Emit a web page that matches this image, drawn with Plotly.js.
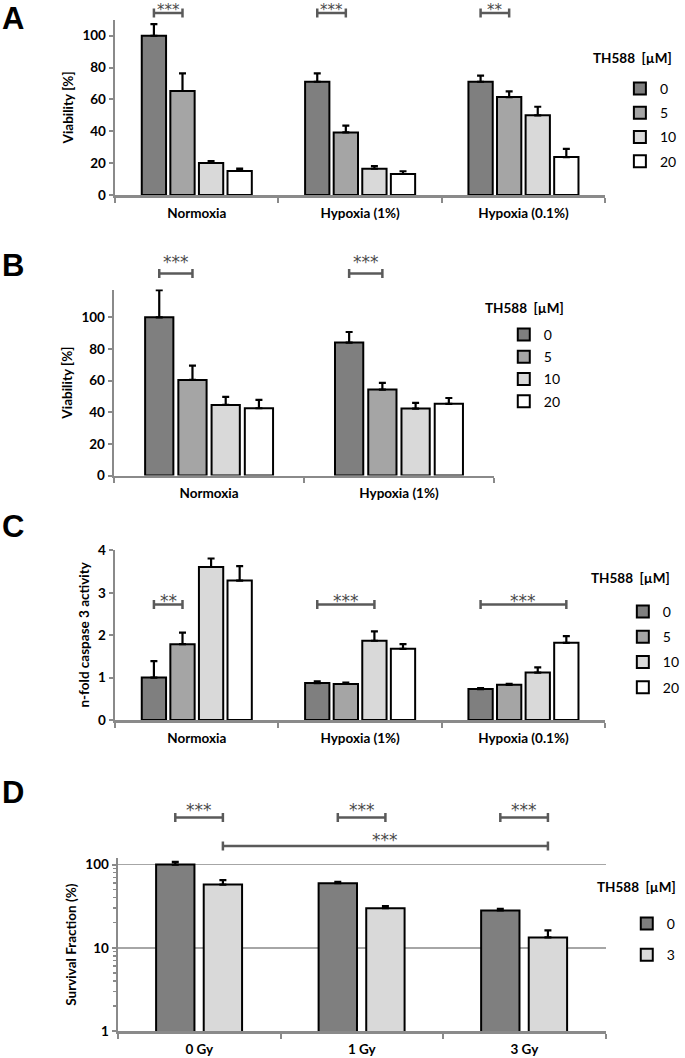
<!DOCTYPE html>
<html><head><meta charset="utf-8">
<script src="https://cdn.plot.ly/plotly-3.0.1.min.js"></script>
<style>html,body{margin:0;padding:0;background:#fff}#chart{width:685px;height:1058px}</style>
</head><body><div id="chart"></div>
<script>
// ---------------- DATA ----------------
const dosesABC = ['0', '5', '10', '20'];          // TH588 [µM]
const dosesD = ['0', '3'];                        // TH588 [µM]

// Panel A – viability
const conditionsA = ['Normoxia', 'Hypoxia (1%)', 'Hypoxia (0.1%)'];
const viabA_0 = [100, 71.1, 71.1];
const viabA_5 = [65.3, 39.3, 61.5];
const viabA_10 = [20.1, 16.5, 50.0];
const viabA_20 = [15.1, 13.2, 23.8];
const errA_0 = [7.3, 5.3, 3.8];
const errA_5 = [11.1, 4.2, 3.6];
const errA_10 = [1.2, 1.7, 5.4];
const errA_20 = [1.4, 1.7, 5.1];

// Panel B – viability
const conditionsB = ['Normoxia', 'Hypoxia (1%)'];
const viabB_0 = [100, 84.0];
const viabB_5 = [60.4, 54.3];
const viabB_10 = [44.6, 42.3];
const viabB_20 = [42.5, 45.3];
const errB_0 = [17.2, 6.7];
const errB_5 = [9.1, 4.2];
const errB_10 = [5.1, 3.6];
const errB_20 = [5.3, 3.7];

// Panel C – n-fold caspase 3 activity
const conditionsC = ['Normoxia', 'Hypoxia (1%)', 'Hypoxia (0.1%)'];
const caspC_0 = [1.0, 0.87, 0.73];
const caspC_5 = [1.79, 0.85, 0.83];
const caspC_10 = [3.61, 1.87, 1.12];
const caspC_20 = [3.29, 1.68, 1.82];
const errC_0 = [0.39, 0.04, 0.025];
const errC_5 = [0.27, 0.03, 0.025];
const errC_10 = [0.2, 0.22, 0.12];
const errC_20 = [0.34, 0.11, 0.16];

// Panel D – survival fraction (%)
const doseGy = ['0 Gy', '1 Gy', '3 Gy'];
const survD_0 = [100, 59.7, 28.1];
const survD_3 = [57.5, 29.9, 13.3];
const errD_0 = [7.6, 2.3, 1.3];
const errD_3 = [7.4, 1.7, 2.9];

// significance brackets: [category index, from bar, to bar, label]
const sigA = [[0, 0, 1, '***'], [1, 0, 1, '***'], [2, 0, 1, '**']];
const sigB = [[0, 0, 1, '***'], [1, 0, 1, '***']];
const sigC = [[0, 0, 1, '**'], [1, 0, 2, '***'], [2, 0, 3, '***']];
const sigD = [[0, 0, 1, '***'], [1, 0, 1, '***'], [2, 0, 1, '***']];
const sigDlong = [[0, 1], [2, 1], '***']; // from (cat, bar) to (cat, bar)

// ---------------- STYLE ----------------
const W = 685, H = 1058;
const FONT = 'Lato, "Open Sans", "Liberation Sans", sans-serif';
const STARFONT = '"DejaVu Sans", "Liberation Sans", sans-serif';
const colors4 = ['#7f7f7f', '#a5a5a5', '#d9d9d9', '#ffffff'];
const colors2 = ['#7f7f7f', '#d9d9d9'];
const AX = '#8a8a8a';
const px = x => x / W;
const py = y => 1 - y / H;

const BARGAP = 0.3, BARGROUPGAP = 0.15;
const D_WIDTH = 0.236, D_OFFSETS = [-0.266, 0.027];

function bar(name, cats, vals, errs, color, xa, ya, leg, grp, extra) {
  return Object.assign({
    type: 'bar', name: name, x: cats, y: vals, xaxis: xa, yaxis: ya,
    legend: leg, legendgroup: grp, showlegend: true,
    marker: {color: color, line: {color: '#000', width: 2}},
    error_y: {type: 'data', symmetric: false, array: errs, arrayminus: errs.map(() => 0),
              color: '#000', thickness: 2.2, width: 3.5},
    hoverinfo: 'skip'
  }, extra || {});
}

const data = [];
const setsA = [viabA_0, viabA_5, viabA_10, viabA_20], eA = [errA_0, errA_5, errA_10, errA_20];
const setsB = [viabB_0, viabB_5, viabB_10, viabB_20], eB = [errB_0, errB_5, errB_10, errB_20];
const setsC = [caspC_0, caspC_5, caspC_10, caspC_20], eC = [errC_0, errC_5, errC_10, errC_20];
dosesABC.forEach((d, i) => data.push(bar(d, conditionsA, setsA[i], eA[i], colors4[i], 'x', 'y', 'legend', 'A' + i)));
dosesABC.forEach((d, i) => data.push(bar(d, conditionsB, setsB[i], eB[i], colors4[i], 'x2', 'y2', 'legend2', 'B' + i)));
dosesABC.forEach((d, i) => data.push(bar(d, conditionsC, setsC[i], eC[i], colors4[i], 'x3', 'y3', 'legend3', 'C' + i)));
const setsD = [survD_0, survD_3], eD = [errD_0, errD_3];
dosesD.forEach((d, i) => data.push(bar(d, doseGy, setsD[i], eD[i], colors2[i], 'x4', 'y4', 'legend4', 'D' + i,
  {width: D_WIDTH, offset: D_OFFSETS[i]})));

// axis geometry (pixels)
const geo = {
  A: {x0: 117, x1: 615, yb: 195, yt: 19.8},
  B: {x0: 116, x1: 502, yb: 475.5, yt: 289.6},
  C: {x0: 117, x1: 615, yb: 720, yt: 549.6},
  D: {x0: 120, x1: 615.5, yb: 1031, yt: 858.3}
};

const tickfont = {family: FONT, size: 13.5, color: '#000', weight: 700};
const titlefont = {family: FONT, size: 13.5, color: '#000', weight: 700};

function xaxis(g, anchor) {
  return {domain: [px(g.x0), px(g.x1)], anchor: anchor, type: 'category',
    showline: true, linecolor: AX, linewidth: 2.5, ticks: 'outside', tickson: 'boundaries',
    ticklen: 5, tickwidth: 2, tickcolor: AX, tickfont: tickfont, ticklabelstandoff: 4,
    showgrid: false, zeroline: false, fixedrange: true};
}
function yaxis(g, anchor, range, dtick, title) {
  return {domain: [py(g.yb), py(g.yt)], anchor: anchor, range: range, dtick: dtick, tick0: 0,
    showline: true, linecolor: AX, linewidth: 2.5, ticks: 'outside', ticklen: 4, tickwidth: 2,
    tickcolor: AX, tickfont: tickfont, showgrid: false, zeroline: false,
    title: {text: title, font: titlefont, standoff: 6}, fixedrange: true};
}

const layout = {
  width: W, height: H, autosize: false, margin: {l: 0, r: 0, t: 0, b: 0},
  paper_bgcolor: '#fff', plot_bgcolor: 'rgba(0,0,0,0)',
  barmode: 'group', bargap: BARGAP, bargroupgap: BARGROUPGAP,
  font: {family: FONT, color: '#000'},
  xaxis: xaxis(geo.A, 'y'), yaxis: yaxis(geo.A, 'x', [0, 110], 20, 'Viability [%]'),
  xaxis2: xaxis(geo.B, 'y2'), yaxis2: yaxis(geo.B, 'x2', [0, 117.5], 20, 'Viability [%]'),
  xaxis3: xaxis(geo.C, 'y3'), yaxis3: yaxis(geo.C, 'x3', [0, 4.02], 1, 'n-fold caspase 3 activity'),
  xaxis4: xaxis(geo.D, 'y4'),
  yaxis4: Object.assign(yaxis(geo.D, 'x4', [0, 2.075], 1, 'Survival Fraction (%)'), {
    type: 'log', tickvals: [1, 10, 100], ticktext: ['1', '10', '100'],
    showgrid: true, gridcolor: '#a6a6a6', gridwidth: 1.5,
    minor: {ticks: 'outside', ticklen: 3, tickcolor: AX, tickwidth: 1.5, dtick: 'D1', showgrid: false}
  }),
  shapes: [], annotations: []
};

function legendAt(boxX, firstY, gap) {
  return {x: px(boxX - 20), y: py(firstY - 14), xanchor: 'left', yanchor: 'top',
    bgcolor: 'rgba(0,0,0,0)', borderwidth: 0, tracegroupgap: gap, traceorder: 'grouped',
    font: {family: FONT, size: 14, color: '#000', weight: 400}};
}
layout.legend = legendAt(650, 87, 3);
layout.legend2 = legendAt(532, 333, 1);
layout.legend3 = legendAt(653, 610, 4);
layout.legend4 = legendAt(657, 922, 10);

// legend titles
[[601, 58], [491, 308], [599, 578], [605, 887]].forEach(p => layout.annotations.push({
  text: 'TH588\u00a0\u00a0[µM]', xref: 'paper', yref: 'paper', x: px(p[0]), y: py(p[1]),
  xanchor: 'left', yanchor: 'middle', showarrow: false,
  font: {family: FONT, size: 13.5, color: '#000', weight: 700}}));

// panel letters
[['A', 18], ['B', 266], ['C', 526], ['D', 792]].forEach(p => layout.annotations.push({
  text: p[0], xref: 'paper', yref: 'paper', x: px(0), y: py(p[1]), xanchor: 'left', yanchor: 'middle',
  showarrow: false, font: {family: '"Liberation Sans Narrow", "Liberation Sans", Arial, sans-serif', size: 31, color: '#000', weight: 700}}));

// bar centre in pixels
function barCenter(g, ncat, cat, b, nb, d) {
  const cw = (g.x1 - g.x0) / ncat;
  let off;
  if (d) off = D_OFFSETS[b] + D_WIDTH / 2;
  else { const gw = 1 - BARGAP, slot = gw / nb; off = -gw / 2 + (b + 0.5) * slot; }
  return g.x0 + (cat + 0.5 + off) * cw;
}
function bracket(xa, xb, yLine, yText, label, anchorTop) {
  const c = '#5a5a5a', cap = 4.5;
  const L = (x0, y0, x1, y1) => layout.shapes.push({type: 'line', xref: 'paper', yref: 'paper',
    x0: px(x0), y0: py(y0), x1: px(x1), y1: py(y1), line: {color: c, width: 2.5}});
  L(xa, yLine, xb, yLine); L(xa, yLine - cap, xa, yLine + cap); L(xb, yLine - cap, xb, yLine + cap);
  layout.annotations.push({text: label, xref: 'paper', yref: 'paper', x: px((xa + xb) / 2), y: py(yText),
    xanchor: 'center', yanchor: anchorTop ? 'top' : 'middle', showarrow: false, borderpad: 0,
    font: {family: STARFONT, size: anchorTop ? 15 : 17, color: '#4a4a4a', weight: 400}});
}
sigA.forEach(s => bracket(barCenter(geo.A, 3, s[0], s[1], 4), barCenter(geo.A, 3, s[0], s[2], 4), 13, 0.5, s[3], true));
sigB.forEach(s => bracket(barCenter(geo.B, 2, s[0], s[1], 4), barCenter(geo.B, 2, s[0], s[2], 4), 273.5, 262, s[3]));
sigC.forEach(s => bracket(barCenter(geo.C, 3, s[0], s[1], 4), barCenter(geo.C, 3, s[0], s[2], 4), 604.5, 600.5, s[3]));
sigD.forEach(s => bracket(barCenter(geo.D, 3, s[0], s[1], 2, true), barCenter(geo.D, 3, s[0], s[2], 2, true), 817.5, 810, s[3]));
bracket(barCenter(geo.D, 3, sigDlong[0][0], sigDlong[0][1], 2, true), barCenter(geo.D, 3, sigDlong[1][0], sigDlong[1][1], 2, true), 846, 840, sigDlong[2]);

Plotly.newPlot('chart', data, layout, {staticPlot: true, displayModeBar: false});
</script>
</body></html>
